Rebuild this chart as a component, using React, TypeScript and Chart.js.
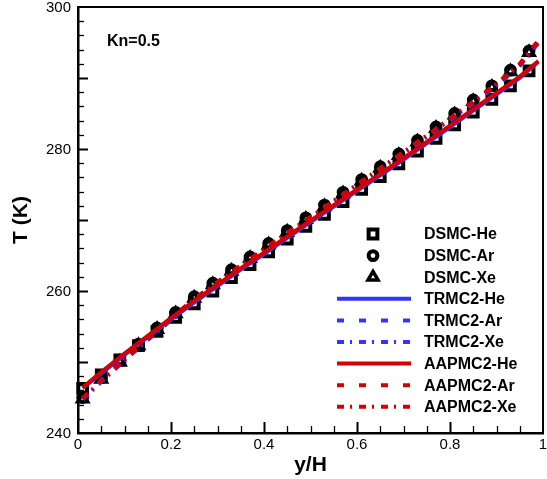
import React, { useEffect, useRef } from 'react';
import { Chart, registerables } from 'chart.js';
import { drawPoint } from 'chart.js/helpers';

Chart.register(...registerables);

// Simulation profiles (y/H vs temperature in K)
const lineX = [0.01, 0.05, 0.1, 0.15, 0.2, 0.25, 0.3, 0.35, 0.4, 0.45, 0.5, 0.55, 0.6, 0.65, 0.7, 0.75, 0.8, 0.85, 0.9, 0.95, 0.99];

const trmcHe = [246.3, 248.4, 251.0, 253.5, 256.0, 258.4, 260.7, 263.0, 265.2, 267.5, 269.7, 271.9, 274.1, 276.3, 278.5, 280.8, 283.1, 285.4, 287.7, 290.0, 292.3];
const trmcAr = [244.8, 247.3, 250.3, 253.2, 256.0, 258.7, 261.1, 263.4, 265.7, 268.0, 270.2, 272.5, 274.7, 277.0, 279.3, 281.6, 284.0, 286.4, 288.9, 291.7, 294.9];
const trmcXe = [244.7, 247.2, 250.2, 253.1, 255.9, 258.6, 261.0, 263.4, 265.7, 268.0, 270.2, 272.5, 274.8, 277.1, 279.4, 281.7, 284.1, 286.5, 289.0, 291.8, 295.1];

const aapmcHe = [246.4, 248.6, 251.2, 253.7, 256.2, 258.6, 260.9, 263.2, 265.4, 267.7, 269.9, 272.1, 274.3, 276.5, 278.7, 281.0, 283.3, 285.6, 287.9, 290.2, 292.4];
const aapmcAr = [244.9, 247.5, 250.5, 253.4, 256.2, 258.9, 261.3, 263.6, 265.9, 268.2, 270.4, 272.7, 274.9, 277.2, 279.5, 281.8, 284.2, 286.6, 289.1, 291.9, 295.1];
const aapmcXe = [244.8, 247.4, 250.4, 253.3, 256.1, 258.8, 261.2, 263.6, 265.9, 268.2, 270.4, 272.7, 275.0, 277.3, 279.6, 281.9, 284.3, 286.7, 289.2, 292.0, 295.3];

// DSMC samples
const dsmcX = [0.01, 0.05, 0.09, 0.13, 0.17, 0.21, 0.25, 0.29, 0.33, 0.37, 0.41, 0.45, 0.49, 0.53, 0.57, 0.61, 0.65, 0.69, 0.73, 0.77, 0.81, 0.85, 0.89, 0.93, 0.97];
const dsmcHe = [246.3, 248.2, 250.3, 252.3, 254.3, 256.3, 258.2, 260.0, 261.9, 263.7, 265.5, 267.3, 269.1, 270.8, 272.6, 274.3, 276.1, 277.9, 279.7, 281.5, 283.4, 285.2, 287.0, 288.9, 291.0];
const dsmcAr = [245.0, 247.8, 250.2, 252.5, 254.8, 257.0, 259.2, 261.1, 263.0, 264.8, 266.7, 268.5, 270.3, 272.1, 273.9, 275.7, 277.5, 279.3, 281.2, 283.1, 285.0, 286.9, 288.9, 291.1, 293.8];
const dsmcXe = [244.8, 247.6, 250.0, 252.3, 254.6, 256.8, 259.0, 260.9, 262.8, 264.6, 266.5, 268.3, 270.1, 271.9, 273.7, 275.5, 277.3, 279.1, 281.0, 282.9, 284.8, 286.7, 288.7, 290.9, 293.6];

// Axis ticks
const xTicks = [0, 0.2, 0.4, 0.6, 0.8, 1];
const xTickLabels = ['0', '0.2', '0.4', '0.6', '0.8', '1'];
const yTicks = [240, 260, 280, 300];
const yTickLabels = ['240', '260', '280', '300'];

const FONT = '"Liberation Sans", Arial, Helvetica, sans-serif';
const BLUE = '#3434ff';
const RED = '#d40000';
const DASH = [7, 15];
const DASH_DOT = [7, 6, 2, 7];

const pts = (xs: number[], ys: number[]) => xs.map((x, i) => ({ x, y: ys[i] }));

const lineSet = (label: string, ys: number[], color: string, dash: number[], order: number) => ({
  label,
  data: pts(lineX, ys),
  showLine: true,
  borderColor: color,
  backgroundColor: color,
  borderWidth: 4,
  borderDash: dash,
  pointRadius: 0,
  pointHoverRadius: 0,
  order,
});

const markerSet = (label: string, ys: number[], style: string, radius: number, order: number) => ({
  label,
  data: pts(dsmcX, ys),
  showLine: false,
  pointStyle: style,
  pointRadius: radius,
  pointBorderWidth: style === 'triangle' ? 3.5 : 4,
  pointBorderColor: '#000',
  pointBackgroundColor: 'rgba(0,0,0,0)',
  borderColor: '#000',
  clip: false,
  order,
});

// Inward tick marks, tick labels and the top/right frame
const frameTicks = {
  id: 'frameTicks',
  beforeDatasetsDraw(chart: any) {
    const { ctx, chartArea: a, scales } = chart;
    const xs = scales.x;
    const ys = scales.y;
    ctx.save();
    ctx.strokeStyle = '#000';
    ctx.lineWidth = 2;
    ctx.beginPath();
    ctx.moveTo(a.left, a.top);
    ctx.lineTo(a.right, a.top);
    ctx.lineTo(a.right, a.bottom);
    ctx.stroke();
    for (let i = 1; i < 20; i++) {
      const major = i % 4 === 0;
      const px = Math.round(xs.getPixelForValue(i * 0.05)) + 0.5;
      ctx.lineWidth = major ? 2 : 1.3;
      ctx.beginPath();
      ctx.moveTo(px, a.bottom);
      ctx.lineTo(px, a.bottom - (major ? 11 : 7));
      ctx.stroke();
    }
    for (let t = 242; t < 300; t += 2) {
      const major = t % 10 === 0;
      const py = Math.round(ys.getPixelForValue(t)) + 0.5;
      ctx.lineWidth = major ? 2 : 1.3;
      ctx.beginPath();
      ctx.moveTo(a.left, py);
      ctx.lineTo(a.left + (major ? 10 : 6), py);
      ctx.stroke();
    }

    ctx.fillStyle = '#000';
    ctx.font = `15px ${FONT}`;
    ctx.textBaseline = 'middle';
    ctx.textAlign = 'center';
    xTicks.forEach((v, i) => {
      ctx.fillText(xTickLabels[i], xs.getPixelForValue(v), a.bottom + 12);
    });
    ctx.textAlign = 'right';
    yTicks.forEach((v, i) => {
      ctx.fillText(yTickLabels[i], a.left - 7, ys.getPixelForValue(v) + 1);
    });
    ctx.restore();
  },
};

// Annotation and legend placed inside the plot area
const insetLegend = {
  id: 'insetLegend',
  afterDraw(chart: any) {
    const { ctx, chartArea: a } = chart;
    ctx.save();
    ctx.fillStyle = '#000';
    ctx.font = `bold 16px ${FONT}`;
    ctx.textBaseline = 'alphabetic';
    ctx.textAlign = 'left';
    ctx.fillText('Kn=0.5', a.left + 29, a.top + 39);

    const rowTop = a.top + 227;
    const rowStep = 21.6;
    const lineStart = a.left + 259;
    const lineEnd = a.left + 333;
    const markX = a.left + 295;
    const textX = a.left + 346;
    chart.data.datasets.forEach((ds: any, i: number) => {
      const y = rowTop + i * rowStep;
      if (ds.showLine) {
        ctx.save();
        ctx.strokeStyle = ds.borderColor;
        ctx.lineWidth = ds.borderWidth;
        ctx.setLineDash(ds.borderDash || []);
        ctx.beginPath();
        ctx.moveTo(lineStart, y);
        ctx.lineTo(lineEnd, y);
        ctx.stroke();
        ctx.restore();
      } else {
        ctx.save();
        ctx.strokeStyle = '#000';
        ctx.fillStyle = '#fff';
        ctx.lineWidth = ds.pointBorderWidth;
        drawPoint(ctx, { pointStyle: ds.pointStyle, radius: ds.pointRadius, rotation: 0, borderWidth: ds.pointBorderWidth } as any, markX, y);
        ctx.restore();
      }
      ctx.fillStyle = '#000';
      ctx.font = `bold 16px ${FONT}`;
      ctx.textBaseline = 'middle';
      ctx.fillText(ds.label, textX, y + 1);
    });
    ctx.restore();
  },
};

export default function App() {
  const ref = useRef<HTMLCanvasElement | null>(null);

  useEffect(() => {
    if (!ref.current) return;
    const chart = new Chart(ref.current, {
      type: 'scatter',
      data: {
        datasets: [
          markerSet('DSMC-He', dsmcHe, 'rect', 6.2, 3),
          markerSet('DSMC-Ar', dsmcAr, 'circle', 4.4, 3),
          markerSet('DSMC-Xe', dsmcXe, 'triangle', 5.8, 3),
          lineSet('TRMC2-He', trmcHe, BLUE, [], 2),
          lineSet('TRMC2-Ar', trmcAr, BLUE, DASH, 2),
          lineSet('TRMC2-Xe', trmcXe, BLUE, DASH_DOT, 2),
          lineSet('AAPMC2-He', aapmcHe, RED, [], 1),
          lineSet('AAPMC2-Ar', aapmcAr, RED, DASH, 1),
          lineSet('AAPMC2-Xe', aapmcXe, RED, DASH_DOT, 1),
        ] as any,
      },
      options: {
        animation: false,
        responsive: false,
        events: [],
        layout: { autoPadding: false, padding: { left: 0, top: 7, right: 4, bottom: 0 } },
        plugins: {
          legend: { display: false },
          tooltip: { enabled: false },
        },
        scales: {
          x: {
            type: 'linear',
            min: 0,
            max: 1,
            grid: { display: false, drawTicks: false },
            border: { display: true, color: '#000', width: 2.5 },
            afterBuildTicks: (s: any) => {
              s.ticks = xTicks.map((v) => ({ value: v }));
            },
            afterFit: (s: any) => {
              s.height = 46;
            },
            ticks: { display: false },
            title: {
              display: true,
              text: 'y/H',
              color: '#000',
              font: { family: FONT, size: 21, weight: 'bold' },
              padding: { top: 0, bottom: 1 },
            },
          },
          y: {
            type: 'linear',
            min: 240,
            max: 300,
            grid: { display: false, drawTicks: false },
            border: { display: true, color: '#000', width: 2.5 },
            afterBuildTicks: (s: any) => {
              s.ticks = yTicks.map((v) => ({ value: v }));
            },
            afterFit: (s: any) => {
              s.width = 78;
            },
            ticks: { display: false },
            title: {
              display: true,
              text: 'T (K)',
              color: '#000',
              font: { family: FONT, size: 21, weight: 'bold' },
              padding: { top: 9, bottom: 0 },
            },
          },
        },
      },
      plugins: [frameTicks, insetLegend],
    });
    return () => chart.destroy();
  }, []);

  return (
    <div style={{ position: 'absolute', left: 0, top: 0, width: 547, height: 479, background: '#fff' }}>
      <canvas ref={ref} width={547} height={479} style={{ display: 'block' }} />
    </div>
  );
}
